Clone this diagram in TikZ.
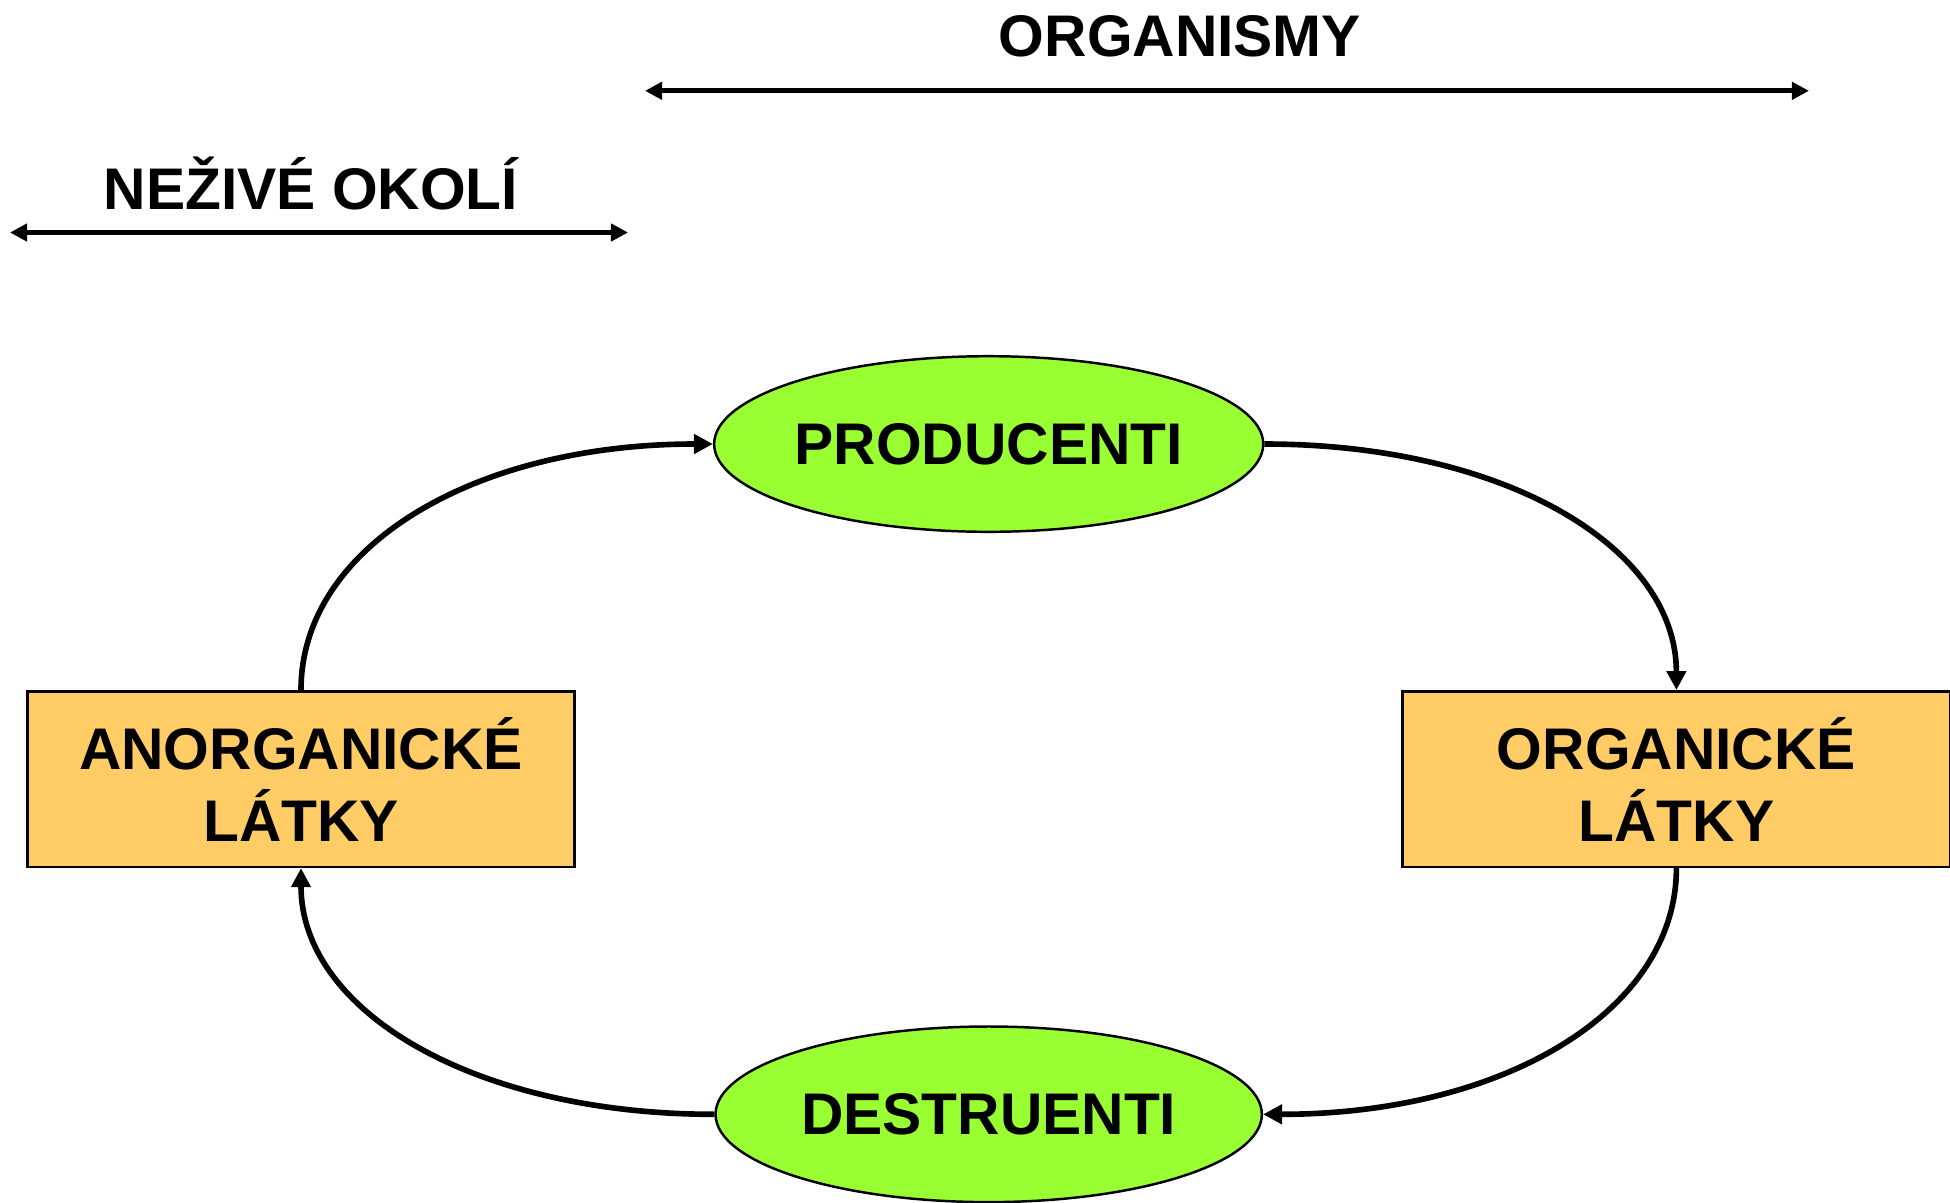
\documentclass[tikz,border=0pt]{standalone}
\usepackage{fontspec}
\setmainfont{Liberation Sans}
\usetikzlibrary{arrows.meta,shapes.geometric,calc}
\definecolor{boxfill}{HTML}{FFCC66}
\definecolor{cellfill}{HTML}{99FF33}
\begin{document}
\begin{tikzpicture}[x=0.01cm,y=-0.01cm,
  lbl/.style={font=\fontsize{16.7}{20.5}\selectfont\bfseries},
  substance/.style={lbl, draw=black, line width=0.75pt, fill=boxfill,
    minimum width=5.47cm, minimum height=1.754cm, inner sep=0pt, align=center},
  organism/.style={lbl, ellipse, draw=black, line width=0.7pt, fill=cellfill,
    minimum width=5.46cm, minimum height=1.755cm, inner sep=0pt},
  flow/.style={line width=1.6pt, -{Triangle[length=0.19cm,width=0.19cm]}},
  span/.style={line width=1.35pt, {Triangle[length=0.17cm,width=0.17cm]}-{Triangle[length=0.17cm,width=0.17cm]}}
]
\useasboundingbox (0,0) rectangle (1950,1202);

% section headings with their extent arrows
\node[lbl, anchor=base] (orgtitle) at (1180,56) {ORGANISMY};
\coordinate (oL) at (645,90.8);
\coordinate (oR) at (1809,90.8);
\draw[span] (oL) -- (oR);

\node[lbl, anchor=base] (envtitle) at (311,209) {NEŽIVÉ OKOLÍ};
\coordinate (eL) at (10,232.5);
\coordinate (eR) at (628,232.5);
\draw[span] (eL) -- (eR);

% cycle members
\node[substance] (anorg) at (301,779.1) {ANORGANICKÉ\\LÁTKY};
\node[substance] (org) at (1676.4,779.1) {ORGANICKÉ\\LÁTKY};
\node[organism] (prod) at (988.7,444) {PRODUCENTI};
\node[organism] (dest) at (988.7,1114.3) {DESTRUENTI};

% cycle arrows
\draw[flow] (anorg.north) .. controls +(0,-143) and +(-240,0) .. (prod.west);
\draw[flow] (prod.east) .. controls +(240,0) and +(0,-143) .. (org.north);
\draw[flow] (org.south) .. controls +(0,143) and +(240,0) .. (dest.east);
\draw[flow] (dest.west) .. controls +(-240,0) and +(0,143) .. (anorg.south);
\end{tikzpicture}
\end{document}
